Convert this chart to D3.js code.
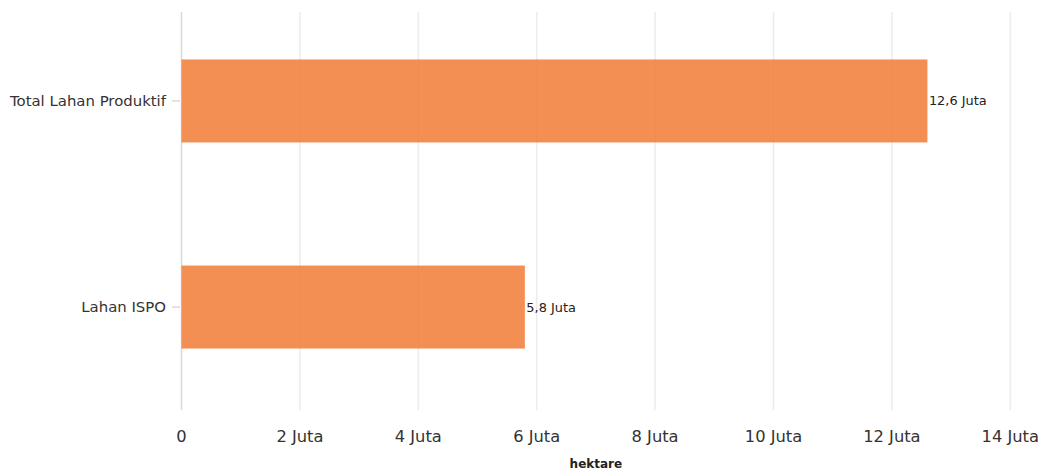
<!DOCTYPE html>
<html><head><meta charset="utf-8">
<script src="https://cdn.jsdelivr.net/npm/d3@7"></script>
<style>body{margin:0;background:#fff}svg{display:block}text{font-family:"DejaVu Sans",Verdana,sans-serif}</style>
</head><body><svg id="c" width="1042" height="472"></svg>
<script>
const categories = ["Total Lahan Produktif", "Lahan ISPO"];
const values = [12.6, 5.8];
const valueLabels = ["12,6 Juta", "5,8 Juta"];
const xTicks = [0, 2, 4, 6, 8, 10, 12, 14];
const xTickLabels = ["0", "2 Juta", "4 Juta", "6 Juta", "8 Juta", "10 Juta", "12 Juta", "14 Juta"];
const xTitle = "hektare";

const svg = d3.select("#c");
const x = d3.scaleLinear().domain([0, 14]).range([181.5, 1010.3]);
const y = d3.scalePoint().domain(categories).range([8, 400]).padding(0.451);
const barH = 83;
const panelTop = 12, panelBottom = 410;

// gridlines
svg.append("g").selectAll("line").data(xTicks).join("line")
  .attr("x1", d => x(d)).attr("x2", d => x(d))
  .attr("y1", panelTop).attr("y2", panelBottom)
  .attr("stroke", d => d === 0 ? "#d9d9d9" : "#ececec").attr("stroke-width", 1.5);

// y tick marks
svg.append("g").selectAll("line").data(categories).join("line")
  .attr("x1", 172).attr("x2", 180).attr("y1", d => y(d)).attr("y2", d => y(d))
  .attr("stroke", "#d0d0d0").attr("stroke-width", 1.2);

// bars
svg.append("g").selectAll("rect").data(categories).join("rect")
  .attr("x", x(0)).attr("y", d => y(d) - barH / 2)
  .attr("width", (d, i) => x(values[i]) - x(0)).attr("height", barH)
  .attr("fill", "#f27b36").attr("fill-opacity", 0.85);

// value labels
svg.append("g").selectAll("text").data(categories).join("text")
  .attr("x", (d, i) => x(values[i]) + 1.5).attr("y", d => y(d)).attr("dy", "0.35em")
  .attr("font-size", 12.9).attr("fill", "#222").text((d, i) => valueLabels[i]);

// y labels
svg.append("g").selectAll("text").data(categories).join("text")
  .attr("x", 166).attr("y", d => y(d)).attr("dy", "0.35em").attr("text-anchor", "end")
  .attr("font-size", 14.9).attr("fill", "#333").text(d => d);

// x labels
svg.append("g").selectAll("text").data(xTicks).join("text")
  .attr("x", d => x(d)).attr("y", 436).attr("dy", "0.35em").attr("text-anchor", "middle")
  .attr("font-size", 16.3).attr("fill", "#333").text((d, i) => xTickLabels[i]);

svg.append("text").attr("x", (x(0) + x(14)) / 2).attr("y", 464).attr("dy", "0.35em")
  .attr("text-anchor", "middle").attr("font-size", 12).attr("font-weight", "bold")
  .attr("fill", "#222").text(xTitle);
</script></body></html>
